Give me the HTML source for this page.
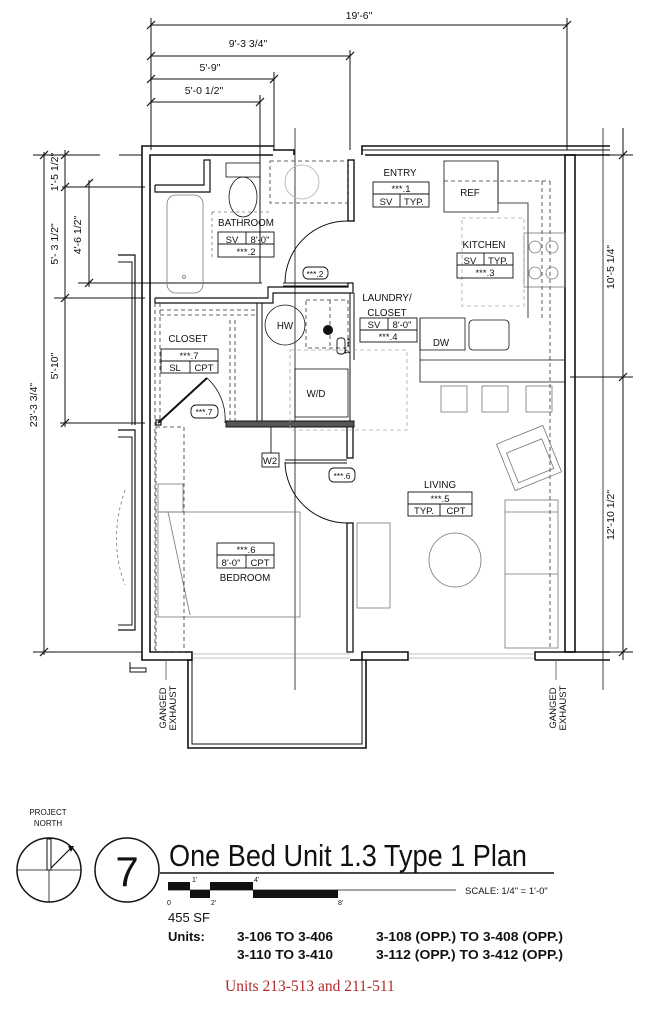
<!DOCTYPE html>
<html><head><meta charset="utf-8"><style>
html,body{margin:0;padding:0;background:#fff;width:650px;height:1023px;overflow:hidden}
svg{display:block}
text{font-family:"Liberation Sans Narrow","Liberation Sans",sans-serif;fill:#111}
</style></head><body>
<svg width="650" height="1023" viewBox="0 0 650 1023" xmlns="http://www.w3.org/2000/svg">
<g stroke="#111" stroke-width="1" fill="none">
<line x1="151" y1="25" x2="567" y2="25"/>
<line x1="151" y1="56" x2="350" y2="56"/>
<line x1="151" y1="79" x2="274" y2="79"/>
<line x1="151" y1="102" x2="260" y2="102"/>
<line x1="151" y1="18" x2="151" y2="150"/>
<line x1="567" y1="18" x2="567" y2="150"/>
<line x1="350" y1="50" x2="350" y2="150"/>
<line x1="274" y1="72" x2="274" y2="150"/>
<line x1="260" y1="95" x2="260" y2="283"/>
<line x1="295" y1="128" x2="295" y2="690" stroke-width="0.8"/>
<line x1="603" y1="128" x2="603" y2="690" stroke-width="0.8"/>
<g stroke-width="1.2">
<line x1="147" y1="29" x2="155" y2="21"/><line x1="563" y1="29" x2="571" y2="21"/>
<line x1="147" y1="60" x2="155" y2="52"/><line x1="346" y1="60" x2="354" y2="52"/>
<line x1="147" y1="83" x2="155" y2="75"/><line x1="270" y1="83" x2="278" y2="75"/>
<line x1="147" y1="106" x2="155" y2="98"/><line x1="256" y1="106" x2="264" y2="98"/>
</g>
<line x1="65" y1="150" x2="65" y2="427"/>
<line x1="89" y1="180" x2="89" y2="287"/>
<line x1="44" y1="152" x2="44" y2="655"/>
<line x1="33" y1="155" x2="100" y2="155"/><line x1="119" y1="155" x2="142" y2="155"/>
<line x1="62" y1="187" x2="145" y2="187"/>
<line x1="78" y1="283" x2="262" y2="283"/>
<line x1="54" y1="298" x2="145" y2="298"/>
<line x1="60" y1="423" x2="145" y2="423"/>
<line x1="33" y1="652" x2="142" y2="652"/>
<g stroke-width="1.2">
<line x1="61" y1="159" x2="69" y2="151"/><line x1="61" y1="191" x2="69" y2="183"/>
<line x1="61" y1="302" x2="69" y2="294"/><line x1="61" y1="427" x2="69" y2="419"/>
<line x1="85" y1="187" x2="93" y2="179"/><line x1="85" y1="287" x2="93" y2="279"/>
<line x1="40" y1="159" x2="48" y2="151"/><line x1="40" y1="656" x2="48" y2="648"/>
</g>
<line x1="623" y1="128" x2="623" y2="660"/>
<line x1="608" y1="155" x2="633" y2="155"/>
<line x1="570" y1="377" x2="633" y2="377"/>
<line x1="568" y1="652" x2="633" y2="652"/>
<g stroke-width="1.2">
<line x1="619" y1="159" x2="627" y2="151"/><line x1="619" y1="381" x2="627" y2="373"/><line x1="619" y1="656" x2="627" y2="648"/>
</g>
</g>
<g font-size="10.5">
<text x="359" y="19" text-anchor="middle">19'-6"</text>
<text x="248" y="47" text-anchor="middle">9'-3 3/4"</text>
<text x="210" y="71" text-anchor="middle">5'-9"</text>
<text x="204" y="94" text-anchor="middle">5'-0 1/2"</text>
<text transform="translate(58,172) rotate(-90)" text-anchor="middle">1'-5 1/2"</text>
<text transform="translate(58,244) rotate(-90)" text-anchor="middle">5'- 3 1/2"</text>
<text transform="translate(81,235) rotate(-90)" text-anchor="middle">4'-6 1/2"</text>
<text transform="translate(58,366) rotate(-90)" text-anchor="middle">5'-10"</text>
<text transform="translate(37,405) rotate(-90)" text-anchor="middle">23'-3 3/4"</text>
<text transform="translate(614,267) rotate(-90)" text-anchor="middle">10'-5 1/4"</text>
<text transform="translate(614,515) rotate(-90)" text-anchor="middle">12'-10 1/2"</text>
</g>
<g stroke="#111" stroke-width="1.6" fill="none">
<polyline points="274,146 142,146 142,660 192,660 192,652 150,652 150,155 273,155"/>
<polyline points="273,150 294,150 294,155"/>
<polyline points="362,155 362,146 610,146"/>
<line x1="362" y1="150" x2="610" y2="150" stroke-width="1"/>
<line x1="365" y1="155" x2="610" y2="155"/>
<rect x="565" y="155" width="10" height="497"/>
<polyline points="362,660 362,652 408,652 408,660 362,660"/>
<polyline points="535,660 535,652 610,652"/>
<line x1="535" y1="660" x2="610" y2="660"/>
<polyline points="192,660 188,660 188,748 366,748 366,660"/>
<polyline points="192,660 192,744 362,744 362,660" stroke-width="1"/>
<line x1="192" y1="654" x2="350" y2="654" stroke-width="0.6" stroke="#888"/>
<line x1="408" y1="654" x2="535" y2="654" stroke-width="0.6" stroke="#888"/>
<line x1="192" y1="658" x2="350" y2="658" stroke-width="0.6" stroke="#888"/>
<line x1="408" y1="658" x2="535" y2="658" stroke-width="0.6" stroke="#888"/>
<line x1="350" y1="660" x2="362" y2="660"/>
<polyline points="118,255 135,255 135,425" stroke-width="1.2"/>
<polyline points="118,262 132,262 132,425" stroke-width="1"/>
<polyline points="118,430 135,430 135,630 118,630" stroke-width="1.2"/>
<polyline points="118,437 132,437 132,625 118,625" stroke-width="1"/>
<polyline points="130,662 130,668 146,668 146,672 130,672 130,668" stroke-width="1"/>
<polyline points="155,185 204,185 204,160 210,160 210,192 155,192 155,185" stroke-width="1.2"/>
<polyline points="155,298 268,298 268,287 348,287 348,283 353,283 353,293 273,293 273,303 155,303 155,298" stroke-width="1.2"/>
<line x1="283" y1="283" x2="348" y2="283" stroke-width="1"/>
<line x1="283" y1="286" x2="348" y2="286" stroke-width="1"/>
<rect x="348" y="160" width="6" height="61" stroke-width="1.4"/>
<rect x="257" y="303" width="5" height="120" stroke-width="1"/>
<rect x="347" y="523" width="6" height="129" stroke-width="1.3"/>
<rect x="347" y="423" width="6" height="35" stroke-width="1.3"/>
<line x1="285" y1="460" x2="347" y2="460" stroke-width="1"/>
<line x1="285" y1="463" x2="347" y2="463" stroke-width="1"/>
<line x1="350" y1="293" x2="350" y2="423" stroke-width="1"/>
<line x1="354" y1="293" x2="354" y2="360" stroke-width="1"/>
</g>
<rect x="226" y="421" width="128" height="6" fill="#555" stroke="#111" stroke-width="1"/>
<g stroke="#111" stroke-width="1" fill="none">
<path d="M348,221 A62,62 0 0 0 285,283"/>
<path d="M285,462 A62,62 0 0 0 347,523"/>
<line x1="158" y1="423" x2="207" y2="378" stroke-width="2"/>
<path d="M207,378 A55,55 0 0 1 225,423" stroke-width="0.8"/>
<rect x="156" y="420" width="5" height="5" stroke-width="1.2"/>
</g>
<g stroke="#777" stroke-width="0.8" fill="none">
<rect x="167" y="195" width="36" height="98" rx="9"/>
<circle cx="184" cy="277" r="1.5"/>
<rect x="226" y="163" width="34" height="14" stroke="#111"/>
<ellipse cx="243" cy="197" rx="14" ry="20" stroke="#111"/>
<circle cx="302" cy="182" r="17" stroke="#aaa"/>
<rect x="270" y="161" width="78" height="42" stroke-dasharray="4,3" stroke="#333"/>
<line x1="212" y1="212" x2="212" y2="258" stroke-dasharray="3,3"/>
<line x1="212" y1="212" x2="270" y2="212" stroke-dasharray="3,3"/>
<rect x="444" y="161" width="54" height="51" stroke="#111"/>
<polyline points="498,161 498,203 528,203 528,318" stroke="#111"/>
<line x1="444" y1="181" x2="550" y2="181" stroke-dasharray="4,3" stroke="#333"/>
<line x1="550" y1="181" x2="550" y2="650" stroke-dasharray="4,3" stroke="#333"/>
<line x1="542" y1="181" x2="542" y2="318" stroke-dasharray="4,3" stroke="#333"/>
<rect x="524" y="233" width="41" height="54"/>
<circle cx="535" cy="247" r="6"/><circle cx="552" cy="247" r="6"/>
<circle cx="535" cy="273" r="6"/><circle cx="552" cy="273" r="6"/>
<rect x="462" y="218" width="62" height="88" stroke-dasharray="4,3" stroke="#aaa"/>
<rect x="420" y="318" width="45" height="32" stroke="#111"/>
<rect x="469" y="320" width="40" height="30" rx="4" stroke="#111"/>
<polyline points="420,318 420,382 565,382" stroke="#111"/>
<line x1="420" y1="360" x2="565" y2="360" stroke="#111"/>
<rect x="441" y="386" width="26" height="26"/>
<rect x="482" y="386" width="26" height="26"/>
<rect x="526" y="386" width="26" height="26"/>
<rect x="295" y="369" width="53" height="48" stroke="#111"/>
<rect x="290" y="350" width="117" height="80" stroke-dasharray="4,3" stroke="#aaa"/>
<rect x="306" y="300" width="42" height="48" stroke-dasharray="4,3" stroke="#333"/>
<line x1="330" y1="300" x2="330" y2="350" stroke-dasharray="4,3" stroke="#333"/>
<circle cx="285" cy="325" r="20" stroke="#111"/>
<rect x="158" y="512" width="142" height="105"/>
<rect x="158" y="484" width="25" height="28"/>
<line x1="168" y1="512" x2="190" y2="615"/>
<rect x="357" y="523" width="33" height="85"/>
<ellipse cx="455" cy="560" rx="26" ry="27"/>
<rect x="505" y="500" width="53" height="148"/>
<line x1="505" y1="512" x2="558" y2="512"/>
<line x1="505" y1="574" x2="558" y2="574"/>
<g transform="rotate(-22 529 458)"><rect x="504" y="433" width="50" height="50"/><rect x="510" y="445" width="38" height="32"/></g>
<line x1="155" y1="303" x2="155" y2="650" stroke-dasharray="4,3" stroke="#333"/>
<line x1="160" y1="303" x2="160" y2="423" stroke-dasharray="4,3" stroke="#333"/>
<line x1="160" y1="310" x2="257" y2="310" stroke-dasharray="4,3" stroke="#333"/>
<line x1="160" y1="315" x2="257" y2="315" stroke-dasharray="4,3" stroke="#333"/>
<line x1="230" y1="320" x2="230" y2="423" stroke-dasharray="4,3" stroke="#333"/>
<line x1="235" y1="320" x2="235" y2="423" stroke-dasharray="4,3" stroke="#333"/>
<rect x="156" y="427" width="28" height="225" stroke-dasharray="4,3" stroke="#333"/>
<path d="M125,490 Q108,540 125,585" stroke-dasharray="3,3"/>
</g>
<circle cx="328" cy="330" r="5" fill="#111"/>
<g font-size="9.8">
<text x="400" y="176" text-anchor="middle">ENTRY</text>
<text x="470" y="196" text-anchor="middle">REF</text>
<text x="246" y="226" text-anchor="middle">BATHROOM</text>
<text x="484" y="248" text-anchor="middle">KITCHEN</text>
<text x="387" y="301" text-anchor="middle">LAUNDRY/</text>
<text x="387" y="316" text-anchor="middle">CLOSET</text>
<text x="188" y="342" text-anchor="middle">CLOSET</text>
<text x="285" y="329" text-anchor="middle">HW</text>
<text x="441" y="346" text-anchor="middle">DW</text>
<text x="316" y="397" text-anchor="middle">W/D</text>
<text x="440" y="488" text-anchor="middle">LIVING</text>
<text x="245" y="581" text-anchor="middle">BEDROOM</text>
</g>
<g stroke="#111" stroke-width="0.9" fill="none">
<rect x="373" y="182" width="56" height="25"/><line x1="373" y1="194" x2="429" y2="194"/><line x1="400" y1="194" x2="400" y2="207"/>
<rect x="218" y="232" width="56" height="25"/><line x1="218" y1="244" x2="274" y2="244"/><line x1="246" y1="232" x2="246" y2="244"/>
<rect x="457" y="253" width="56" height="25"/><line x1="457" y1="265" x2="513" y2="265"/><line x1="484" y1="253" x2="484" y2="265"/>
<rect x="360" y="318" width="57" height="24"/><line x1="360" y1="330" x2="417" y2="330"/><line x1="388" y1="318" x2="388" y2="330"/>
<rect x="161" y="349" width="57" height="24"/><line x1="161" y1="361" x2="218" y2="361"/><line x1="190" y1="361" x2="190" y2="373"/>
<rect x="408" y="492" width="64" height="24"/><line x1="408" y1="504" x2="472" y2="504"/><line x1="440" y1="504" x2="440" y2="516"/>
<rect x="217" y="543" width="57" height="25"/><line x1="217" y1="555" x2="274" y2="555"/><line x1="246" y1="555" x2="246" y2="568"/>
<rect x="303" y="267" width="25" height="12" rx="5"/>
<rect x="191" y="405" width="27" height="13" rx="5"/>
<rect x="329" y="468" width="26" height="14" rx="5"/>
<rect x="337" y="338" width="8" height="16" rx="3"/>
<rect x="262" y="453" width="17" height="14"/>
<line x1="271" y1="427" x2="271" y2="453"/>
</g>
<g font-size="9.5" text-anchor="middle">
<text x="401" y="192">***.1</text><text x="386" y="205">SV</text><text x="414" y="205">TYP.</text>
<text x="232" y="243">SV</text><text x="260" y="243">8'-0"</text><text x="246" y="255">***.2</text>
<text x="470" y="264">SV</text><text x="498" y="264">TYP.</text><text x="485" y="276">***.3</text>
<text x="374" y="328">SV</text><text x="402" y="328">8'-0"</text><text x="388" y="340">***.4</text>
<text x="189" y="359">***.7</text><text x="175" y="371">SL</text><text x="204" y="371">CPT</text>
<text x="440" y="502">***.5</text><text x="424" y="514">TYP.</text><text x="456" y="514">CPT</text>
<text x="246" y="553">***.6</text><text x="231" y="566">8'-0"</text><text x="260" y="566">CPT</text>
<text x="315" y="277" font-size="8.5">***.2</text>
<text x="204" y="415" font-size="8.5">***.7</text>
<text x="342" y="479" font-size="8.5">***.6</text>
<text x="270" y="464">W2</text>
<text transform="translate(344,346) rotate(90)" font-size="8">***.4</text>
</g>
<g font-size="9.5">
<text transform="translate(166,708) rotate(-90)" text-anchor="middle">GANGED</text>
<text transform="translate(176,708) rotate(-90)" text-anchor="middle">EXHAUST</text>
<text transform="translate(556,708) rotate(-90)" text-anchor="middle">GANGED</text>
<text transform="translate(566,708) rotate(-90)" text-anchor="middle">EXHAUST</text>
</g>
<line x1="166" y1="660" x2="166" y2="680" stroke="#555" stroke-width="0.8"/>
<line x1="556" y1="660" x2="556" y2="680" stroke="#555" stroke-width="0.8"/>
<g font-size="8" text-anchor="middle">
<text x="48" y="815">PROJECT</text><text x="48" y="826">NORTH</text>
</g>
<g stroke="#111" fill="none">
<circle cx="49" cy="870" r="32" stroke-width="1.5"/>
<line x1="17" y1="870" x2="81" y2="870" stroke-width="0.8"/>
<line x1="49" y1="870" x2="49" y2="902" stroke-width="0.8"/>
<rect x="47" y="839" width="4" height="31" stroke-width="1"/>
<line x1="51" y1="868" x2="71" y2="848" stroke-width="1.2"/>
<circle cx="127" cy="870" r="32" stroke-width="1.5"/>
<line x1="160" y1="873" x2="554" y2="873" stroke-width="1.5"/>
<line x1="168" y1="890" x2="456" y2="890" stroke-width="0.8"/>
</g>
<polygon points="68,846 74,846 71,852" fill="#111"/>
<text x="127" y="886" font-size="42" text-anchor="middle">7</text>
<text x="169" y="866" font-size="31" textLength="358" lengthAdjust="spacingAndGlyphs">One Bed Unit 1.3 Type 1 Plan</text>
<g fill="#111">
<rect x="168" y="882" width="22" height="8"/>
<rect x="190" y="890" width="20" height="8"/>
<rect x="210" y="882" width="43" height="8"/>
<rect x="253" y="890" width="85" height="8"/>
</g>
<g font-size="7">
<text x="167" y="905">0</text><text x="192" y="882">1'</text><text x="211" y="905">2'</text><text x="254" y="882">4'</text><text x="338" y="905">8'</text>
</g>
<text x="465" y="894" font-size="9.5">SCALE:  1/4" = 1'-0"</text>
<text x="168" y="922" font-size="13">455 SF</text>
<g font-size="13" font-weight="bold">
<text x="168" y="941">Units:</text>
<text x="237" y="941" textLength="96" lengthAdjust="spacingAndGlyphs">3-106 TO 3-406</text>
<text x="237" y="959" textLength="96" lengthAdjust="spacingAndGlyphs">3-110 TO 3-410</text>
<text x="376" y="941" textLength="187" lengthAdjust="spacingAndGlyphs">3-108 (OPP.) TO 3-408 (OPP.)</text>
<text x="376" y="959" textLength="187" lengthAdjust="spacingAndGlyphs">3-112 (OPP.) TO 3-412 (OPP.)</text>
</g>
<text x="225" y="991" font-size="15.5" style="font-family:'Liberation Serif',serif;fill:#b02a2a">Units 213-513 and 211-511</text>
</svg>
</body></html>
